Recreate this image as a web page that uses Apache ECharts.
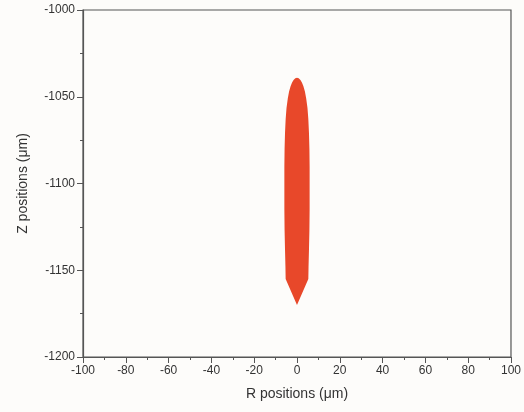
<!DOCTYPE html>
<html><head><meta charset="utf-8">
<script src="https://cdn.jsdelivr.net/npm/echarts@6/dist/echarts.min.js"></script>
<style>html,body{margin:0;padding:0;background:#fdfcfa;}#c{width:524px;height:412px;}</style>
</head><body><div id="c"></div>
<script>
// Outline of the filled region (R in µm, Z in µm), going down the right side then up the left side
const outlineR = [0, 0.8, 1.6, 2.3, 3.0, 3.7, 4.3, 4.9, 5.3, 5.6, 5.8, 5.9, 5.9, 5.9, 5.8, 5.6, 5.4, 5.3, 0,
                  -5.3, -5.4, -5.6, -5.8, -5.9, -5.9, -5.9, -5.8, -5.6, -5.3, -4.9, -4.3, -3.7, -3.0, -2.3, -1.6, -0.8];
const outlineZ = [-1039, -1039.3, -1040.3, -1041.8, -1044, -1047, -1051, -1056.5, -1063, -1071, -1080, -1090, -1102, -1115, -1127, -1138, -1148, -1155, -1170,
                  -1155, -1148, -1138, -1127, -1115, -1102, -1090, -1080, -1071, -1063, -1056.5, -1051, -1047, -1044, -1041.8, -1040.3, -1039.3];
const xTicks = [-100, -80, -60, -40, -20, 0, 20, 40, 60, 80, 100];
const yTicks = [-1200, -1150, -1100, -1050, -1000];

const pts = outlineR.map((r, i) => [r, outlineZ[i]]);
const chart = echarts.init(document.getElementById('c'), null, {renderer: 'canvas'});
const axisCol = '#555';
const font = 'Liberation Sans, Arial, sans-serif';
chart.setOption({
  backgroundColor: '#fdfcfa',
  animation: false,
  grid: {left: 83, right: 12, top: 10, bottom: 55, show: true, borderColor: axisCol, borderWidth: 1.2},
  xAxis: {
    type: 'value', min: xTicks[0], max: xTicks[xTicks.length - 1], interval: 20,
    name: 'R positions (\u03bcm)', nameLocation: 'middle', nameGap: 30,
    nameTextStyle: {fontFamily: font, fontSize: 14, color: '#333'},
    axisLine: {show: true, onZero: false, lineStyle: {color: axisCol, width: 1.2}},
    axisTick: {show: true, length: 6, lineStyle: {color: axisCol}},
    minorTick: {show: true, splitNumber: 2, length: 3, lineStyle: {color: axisCol}},
    splitLine: {show: false},
    axisLabel: {fontFamily: font, fontSize: 12, color: '#333', margin: 8, formatter: v => String(v)}
  },
  yAxis: {
    type: 'value', min: yTicks[0], max: yTicks[yTicks.length - 1], interval: 50,
    name: 'Z positions (\u03bcm)', nameLocation: 'middle', nameGap: 53,
    nameTextStyle: {fontFamily: font, fontSize: 14, color: '#333'},
    axisLine: {show: true, onZero: false, lineStyle: {color: axisCol, width: 1.2}},
    axisTick: {show: true, length: 6, lineStyle: {color: axisCol}},
    minorTick: {show: true, splitNumber: 2, length: 3, lineStyle: {color: axisCol}},
    splitLine: {show: false},
    axisLabel: {fontFamily: font, fontSize: 12, color: '#333', margin: 8, formatter: v => String(v)}
  },
  series: [{
    type: 'custom',
    coordinateSystem: 'cartesian2d',
    data: [0],
    renderItem: function (params, api) {
      const points = pts.map(p => api.coord(p));
      return {type: 'polygon', shape: {points: points}, style: {fill: '#e8482a'}};
    }
  }]
});
</script></body></html>
